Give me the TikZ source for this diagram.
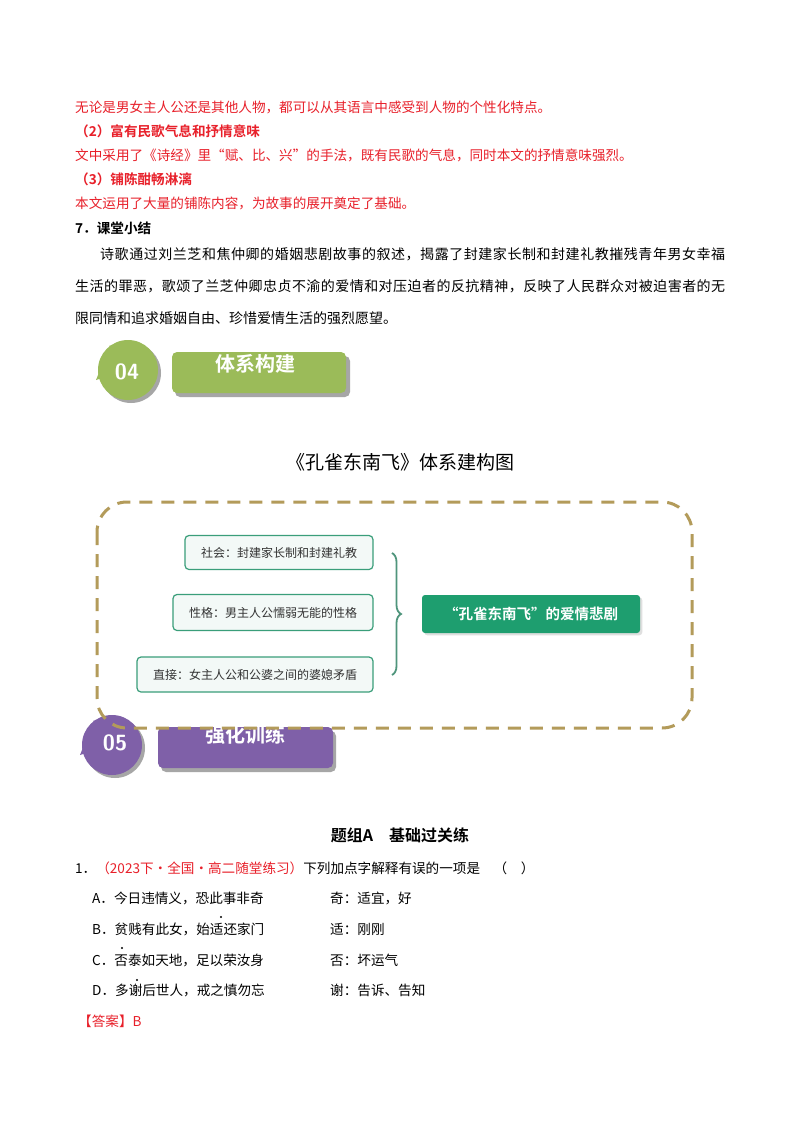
\documentclass[tikz,border=0pt]{standalone}
\usepackage{fontspec}
\setmainfont{Liberation Serif}
\newfontfamily\cjk{Noto Sans CJK SC}[BoldFont={Noto Sans CJK SC Bold}]
\usetikzlibrary{decorations.pathreplacing,shadows}
\definecolor{redt}{HTML}{E8202A}
\definecolor{grn}{HTML}{9BBB59}
\definecolor{purp}{HTML}{7F60A8}
\definecolor{gold}{HTML}{B39B5A}
\definecolor{teal}{HTML}{3A9E7A}
\definecolor{tealf}{HTML}{1E9E6F}
\begin{document}
\begin{tikzpicture}[x=1pt,y=-1pt,
 line/.style={anchor=west,inner sep=0pt,font=\cjk\fontsize{13.6}{14}\selectfont},
 redl/.style={line,text=redt},
 para/.style={anchor=west,inner sep=0pt,font=\cjk\fontsize{14}{14}\selectfont},
 sbox/.style={draw=teal,line width=1.2pt,fill=teal!6,rounded corners=4pt,inner sep=0pt,font=\cjk\fontsize{12}{12}\selectfont,text=black!80},
 bann/.style={rounded corners=5pt,inner sep=0pt,text=white},
 dotm/.style={circle,fill=black,inner sep=0pt,minimum size=2.2pt}]
\useasboundingbox (0,0) rectangle (800,1132);
\fill[white] (0,0) rectangle (800,1132);
\node[redl] (r1) at (75,107) {无论是男女主人公还是其他人物，都可以从其语言中感受到人物的个性化特点。};
\node[redl,font=\cjk\bfseries\fontsize{13.6}{14}\selectfont] (r2) at (75,131) {（2）富有民歌气息和抒情意味};
\node[redl] (r3) at (75,155) {文中采用了《诗经》里“赋、比、兴”的手法，既有民歌的气息，同时本文的抒情意味强烈。};
\node[redl,font=\cjk\bfseries\fontsize{13.6}{14}\selectfont] (r4) at (75,179) {（3）铺陈酣畅淋漓};
\node[redl] (r5) at (75,203) {本文运用了大量的铺陈内容，为故事的展开奠定了基础。};
\node[line,font=\cjk\bfseries\fontsize{13.6}{14}\selectfont] (h7) at (75,228) {7．课堂小结};
\node[para] (p1) at (100,254) {\makebox[625pt][s]{诗\hfill 歌\hfill 通\hfill 过\hfill 刘\hfill 兰\hfill 芝\hfill 和\hfill 焦\hfill 仲\hfill 卿\hfill 的\hfill 婚\hfill 姻\hfill 悲\hfill 剧\hfill 故\hfill 事\hfill 的\hfill 叙\hfill 述\hfill ，\hfill 揭\hfill 露\hfill 了\hfill 封\hfill 建\hfill 家\hfill 长\hfill 制\hfill 和\hfill 封\hfill 建\hfill 礼\hfill 教\hfill 摧\hfill 残\hfill 青\hfill 年\hfill 男\hfill 女\hfill 幸\hfill 福}};
\node[para] (p2) at (75,286) {\makebox[650pt][s]{生\hfill 活\hfill 的\hfill 罪\hfill 恶\hfill ，\hfill 歌\hfill 颂\hfill 了\hfill 兰\hfill 芝\hfill 仲\hfill 卿\hfill 忠\hfill 贞\hfill 不\hfill 渝\hfill 的\hfill 爱\hfill 情\hfill 和\hfill 对\hfill 压\hfill 迫\hfill 者\hfill 的\hfill 反\hfill 抗\hfill 精\hfill 神\hfill ，\hfill 反\hfill 映\hfill 了\hfill 人\hfill 民\hfill 群\hfill 众\hfill 对\hfill 被\hfill 迫\hfill 害\hfill 者\hfill 的\hfill 无}};
\node[para] (p3) at (75,318) {限同情和追求婚姻自由、珍惜爱情生活的强烈愿望。};
% banner 04
\fill[black!35,rounded corners=5pt] (175,356) rectangle (350,397);
\fill[black!35] (131,373) circle (30);
\fill[grn] (128,370) circle (30);
\fill[grn] (96,380) -- (110,345) -- (128,370) -- cycle;
\node[bann,fill=grn,minimum width=174pt,minimum height=41pt] (b4) at (259,372.5) {};
\node[text=white,font=\sffamily\bfseries\fontsize{22}{22}\selectfont] (n4) at (127,372) {04};
\node[text=white,font=\cjk\bfseries\fontsize{20}{20}\selectfont] (t4) at (255,364) {体系构建};
% title
\node[font=\cjk\fontsize{19}{19}\selectfont] (title) at (400,462) {《孔雀东南飞》体系建构图};
% banner 05
\fill[black!35,rounded corners=5pt] (161,731) rectangle (336,772);
\fill[black!35] (115,748) circle (30);
\fill[purp] (112,745) circle (30);
\fill[purp] (80,755) -- (94,720) -- (112,745) -- cycle;
\node[bann,fill=purp,minimum width=175pt,minimum height=41pt] (b5) at (245.5,747.5) {};
\node[text=white,font=\sffamily\bfseries\fontsize{22}{22}\selectfont] (n5) at (115,743) {05};
\node[text=white,font=\cjk\bfseries\fontsize{20}{20}\selectfont] (t5) at (245,735) {强化训练};
% dashed frame
\draw[gold,line width=3pt,dash pattern=on 13pt off 9pt,rounded corners=30pt] (97,502) rectangle (692,728);
% boxes
\node[sbox,minimum width=188pt,minimum height=34pt] (s1) at (279,552.5) {社会：封建家长制和封建礼教};
\node[sbox,minimum width=200pt,minimum height=36pt] (s2) at (273,612.5) {性格：男主人公懦弱无能的性格};
\node[sbox,minimum width=236pt,minimum height=35pt] (s3) at (255,674.5) {直接：女主人公和公婆之间的婆媳矛盾};
\draw[teal!70!gray,line width=1.8pt,decorate,decoration={brace,amplitude=9pt}] (392,553) -- (392,675) coordinate[midway] (bm);
\node[fill=tealf,rounded corners=3pt,minimum width=218pt,minimum height=38pt,text=white,font=\cjk\bfseries\fontsize{14.5}{15}\selectfont,drop shadow={opacity=0.25}] (main) at (531,614) {“孔雀东南飞”的爱情悲剧};
% section
\node[font=\cjk\bfseries\fontsize{16}{16}\selectfont] (sec) at (400,835) {题组A\quad 基础过关练};
\node[line] (q1) at (75,868) {1．\textcolor{redt}{（2023下·全国·高二随堂练习）}下列加点字解释有误的一项是\quad （\quad ）};
\node[line] (qa) at (92,898) {A．今日违情义，恐此事非奇};
\node[line] (qa2) at (330,898) {奇：适宜，好};
\node[line] (qb) at (92,929) {B．贫贱有此女，始适还家门};
\node[line] (qb2) at (330,929) {适：刚刚};
\node[line] (qc) at (92,960) {C．否泰如天地，足以荣汝身};
\node[line] (qc2) at (330,960) {否：坏运气};
\node[line] (qd) at (92,990) {D．多谢后世人，戒之慎勿忘};
\node[line] (qd2) at (330,990) {谢：告诉、告知};
\node[dotm] (d1) at (221,917) {};
\node[dotm] (d2) at (122,948) {};
\node[dotm] (d3) at (137,980) {};
\node[line,text=redt] (ans) at (78,1021) {【答案】B};
\end{tikzpicture}
\end{document}
